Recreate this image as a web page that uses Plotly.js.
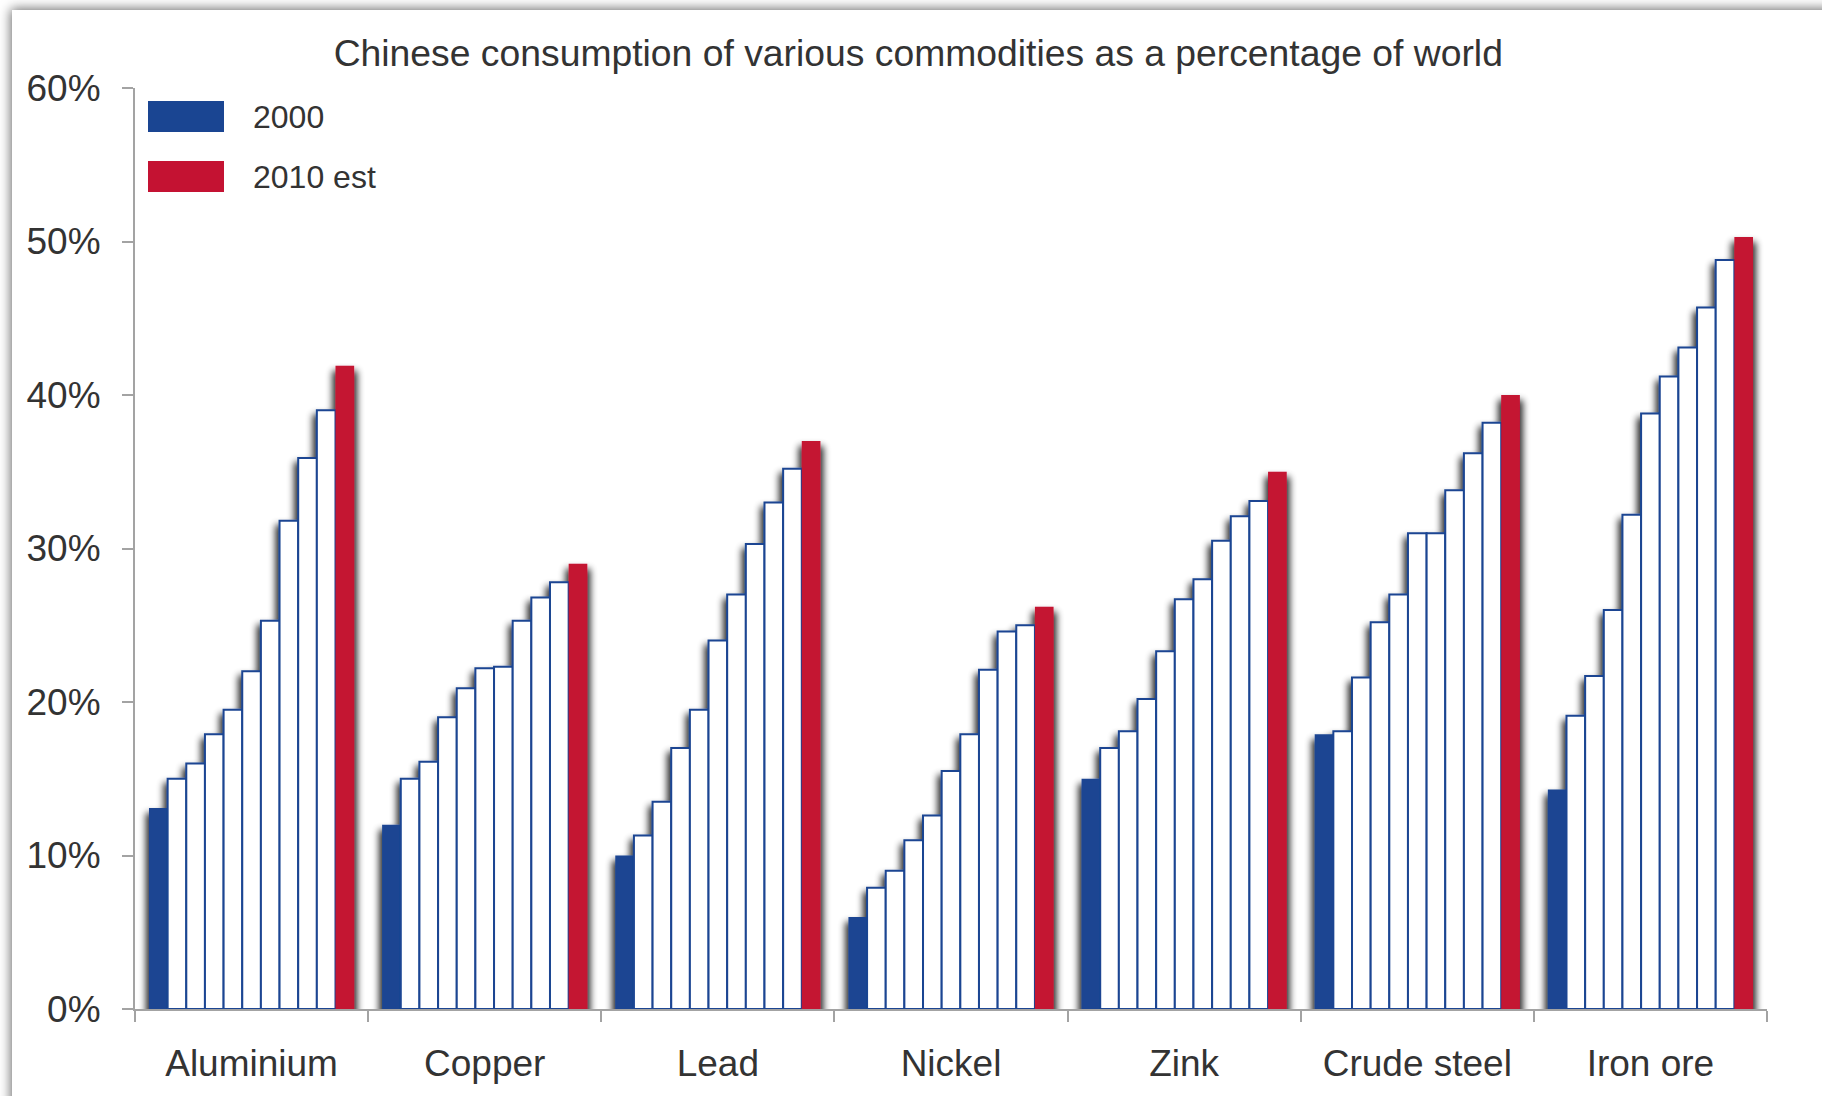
<!DOCTYPE html>
<html>
<head>
<meta charset="utf-8">
<script src="https://cdn.plot.ly/plotly-3.0.1.min.js"></script>
<style>
  html, body { margin: 0; padding: 0; width: 1822px; height: 1096px; overflow: hidden; background: #fff; }
  #frame {
    position: absolute; left: 12px; top: 10px; width: 1900px; height: 1200px;
    background: #fff; box-shadow: 0 0 11px 1px rgba(0,0,0,0.6);
  }
  #chart { position: absolute; left: 0; top: 0; width: 1822px; height: 1096px; }
</style>
</head>
<body>
<div id="frame"></div>
<div id="chart"></div>
<script>
// Chinese share of world consumption, % (2000 .. 2010 est)
const categories = ['Aluminium', 'Copper', 'Lead', 'Nickel', 'Zink', 'Crude steel', 'Iron ore'];
const years = ['2000', '2001', '2002', '2003', '2004', '2005', '2006', '2007', '2008', '2009', '2010 est'];

const aluminium  = [13.1, 15.0, 16.0, 17.9, 19.5, 22.0, 25.3, 31.8, 35.9, 39.0, 41.9];
const copper     = [12.0, 15.0, 16.1, 19.0, 20.9, 22.2, 22.3, 25.3, 26.8, 27.8, 29.0];
const lead       = [10.0, 11.3, 13.5, 17.0, 19.5, 24.0, 27.0, 30.3, 33.0, 35.2, 37.0];
const nickel     = [ 6.0,  7.9,  9.0, 11.0, 12.6, 15.5, 17.9, 22.1, 24.6, 25.0, 26.2];
const zink       = [15.0, 17.0, 18.1, 20.2, 23.3, 26.7, 28.0, 30.5, 32.1, 33.1, 35.0];
const crudeSteel = [17.9, 18.1, 21.6, 25.2, 27.0, 31.0, 31.0, 33.8, 36.2, 38.2, 40.0];
const ironOre    = [14.3, 19.1, 21.7, 26.0, 32.2, 38.8, 41.2, 43.1, 45.7, 48.8, 50.3];

const legendLabels = ['2000', '2010 est'];

const BLUE = '#1a4592';
const RED = '#c41232';
const TEXT = '#333333';
const AXIS = '#a3a3a3';
const FONT = 'Liberation Sans, Arial, sans-serif';

const series = [aluminium, copper, lead, nickel, zink, crudeSteel, ironOre];

// one trace per year, so each commodity gets a run of 11 adjacent bars
const traces = years.map((yr, i) => {
  const first = i === 0;
  const last = i === years.length - 1;
  return {
    type: 'bar',
    name: yr,
    x: categories,
    y: series.map(s => s[i]),
    marker: {
      color: first ? BLUE : (last ? RED : '#ffffff'),
      line: { color: first ? BLUE : (last ? RED : BLUE), width: (first || last) ? 0 : 2 }
    },
    showlegend: false,
    hoverinfo: 'skip'
  };
});

// legend: wide colour swatches with labels
const swatchColors = [BLUE, RED];
const shapes = [];
const annotations = [];
const W = 1822, H = 1096;
legendLabels.forEach((lbl, k) => {
  const top = 101 + k * 60, bot = top + 31;
  shapes.push({
    type: 'rect', xref: 'paper', yref: 'paper', layer: 'above',
    x0: (148 - 135) / 1632, x1: (224 - 135) / 1632,
    y0: (1009 - bot) / 921, y1: (1009 - top) / 921,
    fillcolor: swatchColors[k], line: { width: 0 }
  });
  annotations.push({
    xref: 'paper', yref: 'paper', showarrow: false,
    x: (251 - 135) / 1632, xanchor: 'left',
    y: (1009 - (top + 15.5)) / 921, yanchor: 'middle',
    text: lbl, font: { family: FONT, size: 32, color: TEXT }
  });
});

const layout = {
  width: W, height: H,
  paper_bgcolor: 'rgba(0,0,0,0)',
  plot_bgcolor: 'rgba(0,0,0,0)',
  margin: { l: 135, r: 55, t: 88, b: 87 },
  font: { family: FONT, color: TEXT },
  title: {
    text: 'Chinese consumption of various commodities as a percentage of world',
    font: { family: FONT, size: 37.3, color: TEXT },
    xref: 'container', x: 0.504, xanchor: 'center',
    yref: 'container', y: 1 - 53 / H, yanchor: 'middle'
  },
  barmode: 'group',
  bargap: 0.12,
  bargroupgap: 0,
  xaxis: {
    type: 'category',
    showline: true, linecolor: AXIS, linewidth: 2,
    ticks: 'outside', tickson: 'boundaries', ticklen: 11, tickcolor: AXIS, tickwidth: 2,
    showgrid: false, zeroline: false,
    tickfont: { family: FONT, size: 37, color: TEXT },
    ticklabelstandoff: 21
  },
  yaxis: {
    range: [0, 60], dtick: 10, ticksuffix: '%',
    showline: true, linecolor: AXIS, linewidth: 2,
    ticks: 'outside', ticklen: 11, tickcolor: AXIS, tickwidth: 2,
    showgrid: false, zeroline: false,
    tickfont: { family: FONT, size: 37, color: TEXT },
    ticklabelstandoff: 14
  },
  shapes: shapes,
  annotations: annotations
};

function svgEl(tag, attrs) {
  const el = document.createElementNS('http://www.w3.org/2000/svg', tag);
  Object.keys(attrs).forEach(k => el.setAttribute(k, attrs[k]));
  return el;
}

const gd = document.getElementById('chart');
Plotly.newPlot(gd, traces, layout, { staticPlot: true, displayModeBar: false }).then(() => {
  // soft drop shadow around the bar groups
  const svg = gd.querySelector('svg.main-svg');
  let defs = svg.querySelector('defs');
  if (!defs) { defs = svgEl('defs', {}); svg.insertBefore(defs, svg.firstChild); }
  const f = svgEl('filter', {
    id: 'barShadow', filterUnits: 'userSpaceOnUse',
    x: '0', y: '0', width: String(W), height: String(H)
  });
  f.appendChild(svgEl('feMorphology', { in: 'SourceAlpha', operator: 'dilate', radius: '3', result: 'grow' }));
  f.appendChild(svgEl('feGaussianBlur', { in: 'grow', stdDeviation: '3.5', result: 'blur' }));
  f.appendChild(svgEl('feOffset', { in: 'blur', dx: '0', dy: '8', result: 'off' }));
  const ct = svgEl('feComponentTransfer', { in: 'off', result: 'shadow' });
  ct.appendChild(svgEl('feFuncA', { type: 'linear', slope: '0.85' }));
  f.appendChild(ct);
  const merge = svgEl('feMerge', {});
  merge.appendChild(svgEl('feMergeNode', { in: 'shadow' }));
  merge.appendChild(svgEl('feMergeNode', { in: 'SourceGraphic' }));
  f.appendChild(merge);
  defs.appendChild(f);
  gd.querySelectorAll('.barlayer').forEach(bl => bl.setAttribute('filter', 'url(#barShadow)'));
});
</script>
</body>
</html>
